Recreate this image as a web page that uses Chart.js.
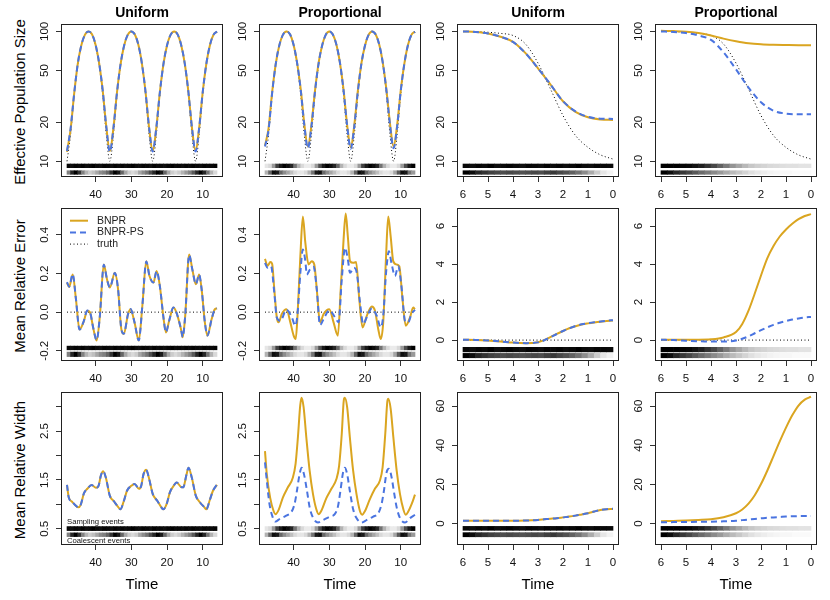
<!DOCTYPE html>
<html><head><meta charset="utf-8">
<script src="https://cdn.jsdelivr.net/npm/chart.js@4.4.1/dist/chart.umd.min.js"></script>
<style>
html,body{margin:0;padding:0;background:#fff;}
#wrap{position:relative;width:830px;height:600px;overflow:hidden;background:#fff;}
#wrap canvas{position:absolute;}
.ytitle{position:absolute;font-family:"Liberation Sans",Arial,sans-serif;font-size:15px;line-height:1;color:#000;white-space:nowrap;transform:translate(-50%,-50%) rotate(-90deg);}
</style></head><body><div id="wrap"></div>
<script>
// ================= DATA =================
const columnTitles = ['Uniform', 'Proportional', 'Uniform', 'Proportional'];
const rowTitles = ['Effective Population Size', 'Mean Relative Error', 'Mean Relative Width'];
const legendLabels = ['BNPR', 'BNPR-PS', 'truth'];
const stripLabels = ['Sampling events', 'Coalescent events'];
const xAxisTitle = 'Time';

const xTicksPer = [40, 30, 20, 10];
const xLabelsPer = ['40', '30', '20', '10'];
const xTicksExp = [6, 5, 4, 3, 2, 1, 0];
const xLabelsExp = ['6', '5', '4', '3', '2', '1', '0'];
const yTicksNe = [10, 20, 50, 100];
const yLabelsNe = ['10', '20', '50', '100'];
const yTicksErrPer = [-0.2, 0, 0.2, 0.4];
const yLabelsErrPer = ['-0.2', '0.0', '0.2', '0.4'];
const yTicksErrExp = [0, 2, 4, 6];
const yLabelsErrExp = ['0', '2', '4', '6'];
const yTicksWidPer = [0.5, 1, 1.5, 2, 2.5, 3];
const yLabelsWidPer = ['0.5', '', '1.5', '', '2.5', ''];
const yTicksWidExp = [0, 20, 40, 60];
const yLabelsWidExp = ['0', '20', '40', '60'];

// --- Row 1: effective population size, periodic scenario ---
const timePer = [48,47,46,45,44,43,42,41,40,39,38,37,36,35,34,33,32,31,30,29,28,27,26,25,24,23,22,21,20,19,18,17,16,15,14,13,12,11,10,9,8,7,6];
const neTruthPer = [10,16,32.5,55,77.5,94,100,94,77.5,55,32.5,16,10,16,32.5,55,77.5,94,100,94,77.5,55,32.5,16,10,16,32.5,55,77.5,94,100,94,77.5,55,32.5,16,10,16,32.5,55,77.5,94,100];
const neUnifBNPR = [11.8,17.5,33,56,78,94,100,95,79,57,35,18.5,12,18,34,56,78,94,100,94.5,78.5,56,34,18,12,18,34,56,78,94,100,94.5,78,56,34,18,12,18,34,56,78,94,99.5];
const neUnifPS = [12,17.8,33,56,78,94,100,95,79,57,35,18.5,11.8,18,34,56,78,94,100,94.5,78.5,56,34,18,11.9,18,34,56,78,94,100,94.5,78,56,34,18,11.9,18,34,56,78,94,99.8];
const nePropBNPR = [13.2,18,34,56,78,94,100,95,79,57,36,19.5,13,19,35,57,78,94,100,94.5,79,57,35.5,19,12.8,19,35,57,78,94,100,94.5,79,57,35.5,19.5,13,19,35,56,78,94,99.5];
const nePropPS = [13,17.5,33.5,56,78,94,100,95,79,57,35.5,19,12.6,18.5,34.5,56.5,78,94,100,94.5,79,57,35,18.8,12.5,18.5,34.5,56.5,78,94,100,94.5,79,57,35,19,12.6,18.5,34.5,56,78,94,99.5];

// --- Row 1: effective population size, decline scenario ---
const timeExp = [6,5.5,5,4.5,4,3.5,3,2.5,2,1.5,1,0.5,0];
const neTruthExp = [100,99.5,98.5,96.5,93,80,57,36,22.5,15.8,12.8,11.2,10.4];
const neUnifExpBNPR = [100,99,96.5,91,83,68,52,39,29,24,21.8,21,20.8];
const neUnifExpPS = [100,99,96.5,91,83,68,52,39,29,24.2,22,21.3,21.2];
const nePropExpBNPR = [101,100.5,99.5,97,93,88,84,81,79.5,78.8,78.5,78.3,78.3];
const nePropExpPS = [100,99,97,93,86,69,51,37,28.5,24.5,23.3,23,23];

// --- Row 2: mean relative error, periodic ---
const mreUnifTime = [48,47.4,46.4,45.5,44.5,43.4,42.3,41.6,40.6,39.7,38.8,37.7,36.8,36.0,34.6,33.7,32.8,32.1,30.9,30.2,29.1,27.9,26.9,25.8,24.9,23.8,22.9,22.0,21.0,20.3,19.4,18.2,17.3,16.1,15.6,14.9,13.8,12.9,11.9,11.0,10.3,9.4,8.7,7.5,6.6,6.0];
const mreUnifBNPR = [0.153,0.13,0.195,0.067,-0.09,-0.053,0.007,0.0,-0.087,-0.147,-0.02,0.247,0.17,0.127,0.204,0.118,-0.087,-0.113,-0.01,0.015,-0.053,-0.147,0.033,0.264,0.187,0.153,0.213,0.135,-0.027,-0.105,-0.045,0.024,-0.005,-0.087,-0.13,-0.019,0.298,0.221,0.144,0.195,0.118,-0.053,-0.122,-0.036,0.015,0.019];
const mreUnifPS = [0.155,0.132,0.197,0.068,-0.09,-0.052,0.008,0.001,-0.086,-0.145,-0.02,0.245,0.17,0.128,0.203,0.118,-0.086,-0.112,-0.01,0.016,-0.052,-0.146,0.033,0.262,0.187,0.154,0.212,0.135,-0.026,-0.104,-0.045,0.024,-0.005,-0.086,-0.129,-0.018,0.296,0.22,0.145,0.194,0.118,-0.052,-0.121,-0.036,0.015,0.02];
const mrePropTime = [48,47.3,46.5,46.0,45.4,44.7,44.2,43.3,42.0,40.9,40.0,39.4,38.9,38.1,37.4,36.7,35.8,34.9,34.2,33.5,32.6,31.6,30.0,28.8,27.6,26.8,26.0,25.4,24.8,24.2,23.3,22.5,21.6,20.7,19.5,18.1,17.2,16.3,15.6,14.9,14.1,13.5,12.8,12.1,11.2,10.4,9.5,8.6,7.4,6.5,6.0];
const mrePropBNPR = [0.276,0.24,0.259,0.25,0.118,-0.027,-0.053,-0.01,0.015,-0.053,-0.12,-0.139,-0.02,0.29,0.495,0.358,0.247,0.264,0.247,0.118,-0.053,-0.01,0.015,-0.053,-0.122,0.118,0.375,0.51,0.39,0.264,0.255,0.259,0.067,-0.079,-0.019,0.029,0.007,-0.087,-0.139,-0.053,0.29,0.495,0.39,0.264,0.247,0.238,0.067,-0.07,-0.027,0.024,0.015];
const mrePropPSTime = [48,47.3,46.3,45.4,44.7,43.7,42.0,40.5,39.5,38.9,38.1,37.4,36.7,36.3,35.4,34.4,33.5,32.6,31.6,30.0,28.4,27.4,26.5,25.6,24.8,24.2,23.1,22.3,21.4,20.5,19.5,18.1,16.7,15.6,14.9,14.1,13.3,12.6,11.6,10.7,9.8,8.8,7.9,7.0,6.0];
const mrePropPS = [0.255,0.23,0.238,0.1,-0.027,-0.045,0.012,-0.027,-0.07,-0.01,0.204,0.324,0.264,0.195,0.221,0.235,0.118,-0.067,-0.036,0.01,-0.027,-0.053,0.17,0.333,0.273,0.204,0.23,0.204,0.05,-0.062,-0.027,0.019,-0.019,-0.079,-0.019,0.204,0.315,0.255,0.187,0.238,0.135,-0.045,-0.053,-0.01,0.012];
const errTruthTimePer = [48, 6];
const errTruthPer = [0, 0];

// --- Row 2: mean relative error, decline ---
const timeExpFine = [6,5.5,5,4.5,4,3.5,3,2.75,2.5,2.25,2,1.75,1.5,1.25,1,0.75,0.5,0.25,0];
const mreUnifExpBNPR = [0.02,0.01,-0.02,-0.07,-0.13,-0.16,-0.11,0.0,0.16,0.33,0.48,0.62,0.73,0.82,0.88,0.93,0.97,1.0,1.03];
const mreUnifExpPS = [0.02,0.01,-0.02,-0.07,-0.13,-0.16,-0.12,-0.01,0.15,0.32,0.48,0.62,0.74,0.83,0.89,0.94,0.98,1.02,1.05];
const mrePropExpBNPR = [0.02,0.02,0.02,0.02,0.04,0.14,0.42,0.85,1.55,2.45,3.4,4.3,4.95,5.45,5.82,6.12,6.36,6.53,6.63];
const mrePropExpPS = [0.02,0.0,-0.03,-0.06,-0.08,-0.08,-0.02,0.07,0.2,0.36,0.52,0.67,0.8,0.91,1.0,1.08,1.14,1.19,1.22];
const errTruthTimeExp = [6, 0];
const errTruthExp = [0, 0];

// --- Row 3: mean relative width, periodic ---
const mrwUnifTime = [48,47.5,46.67,45.74,44.8,44.17,43.24,42.31,41.11,39.9,39.17,38.52,37.87,37.13,36.02,34.81,33.7,33.06,32.13,31.2,30,29.07,27.87,27.22,26.57,25.83,25.09,23.98,22.78,21.67,21.02,20.09,19.17,17.96,17.31,16.11,15.46,14.54,13.98,13.06,11.94,10.74,9.63,8.98,8.06,7.13,6];
const mrwUnifBNPR = [1.40,1.14,1.06,0.99,0.94,0.99,1.23,1.32,1.40,1.34,1.38,1.59,1.68,1.55,1.18,1.06,0.95,0.90,1.06,1.28,1.38,1.42,1.32,1.38,1.62,1.71,1.55,1.21,1.08,0.95,0.90,1.01,1.25,1.40,1.45,1.36,1.35,1.61,1.75,1.55,1.18,1.04,0.95,0.90,1.08,1.28,1.40];
const mrwUnifPS = [1.40,1.14,1.06,0.99,0.94,0.99,1.23,1.32,1.40,1.34,1.38,1.59,1.68,1.55,1.18,1.06,0.95,0.90,1.06,1.28,1.38,1.42,1.32,1.38,1.62,1.71,1.55,1.21,1.08,0.95,0.90,1.01,1.25,1.40,1.45,1.36,1.35,1.61,1.75,1.55,1.18,1.04,0.95,0.90,1.08,1.28,1.41];
const mrwPropTime = [48,47.5,46.56,45.62,45.06,44.12,43.0,41.59,40.19,39.44,38.78,38.13,37.75,37.19,36.44,35.5,34.56,33.63,32.97,32.22,30.82,29.41,28.0,27.25,26.5,25.94,25.66,25.0,24.25,23.32,22.38,21.44,20.79,20.04,18.63,17.23,15.82,15.07,14.32,13.76,13.48,12.82,12.07,11.13,10.2,9.26,8.6,7.85,6.92,6];
const mrwPropBNPR = [2.09,1.62,1.14,0.87,0.80,0.90,1.14,1.35,1.55,1.83,2.38,3.03,3.18,2.99,2.38,1.69,1.21,0.90,0.80,0.87,1.13,1.32,1.52,1.79,2.45,3.13,3.18,2.99,2.38,1.69,1.21,0.87,0.79,0.86,1.11,1.32,1.49,1.76,2.45,3.10,3.16,2.96,2.38,1.69,1.21,0.90,0.79,0.86,1.01,1.20];
const mrwPropPSTime = [48,47.5,46.75,45.81,45.06,43.94,42.06,40.66,39.72,39.06,38.31,37.75,37.09,36.25,35.5,34.56,33.16,31.75,29.88,28.47,27.54,26.88,26.13,25.66,25.0,24.25,23.32,22.38,20.98,19.57,17.7,16.29,15.35,14.7,13.95,13.29,12.54,11.88,11.13,10.2,8.79,7.38,6];
const mrwPropPS = [1.86,1.49,1.01,0.73,0.65,0.70,0.77,0.84,1.01,1.28,1.62,1.75,1.62,1.28,0.94,0.73,0.63,0.68,0.75,0.80,0.97,1.28,1.66,1.75,1.62,1.28,0.90,0.72,0.63,0.68,0.75,0.82,1.01,1.28,1.66,1.73,1.55,1.25,0.94,0.72,0.63,0.72,0.79];

// --- Row 3: mean relative width, decline ---
const mrwUnifExpBNPR = [1.5,1.5,1.5,1.5,1.5,1.6,1.9,2.2,2.5,2.8,3.2,3.6,4.1,4.7,5.3,6.2,7.0,7.4,7.5];
const mrwUnifExpPS = [1.5,1.5,1.5,1.5,1.5,1.6,1.9,2.2,2.5,2.8,3.2,3.6,4.1,4.7,5.3,6.2,7.0,7.4,7.6];
const mrwPropExpBNPR = [1.2,1.4,1.6,1.9,2.3,3.3,5.3,7.2,10.2,14.5,20.2,27,34.5,42,49,55.3,60.3,63.3,64.8];
const mrwPropExpPS = [0.7,0.78,0.85,0.92,1.0,1.2,1.5,1.8,2.1,2.4,2.7,3.0,3.2,3.4,3.6,3.75,3.85,3.9,3.9];

// --- event strips (darkness 0 = white, 1 = black) ---
const stripTimePer = [47.5,46.5,45.5,44.5,43.5,42.5,41.5,40.5,39.5,38.5,37.5,36.5,35.5,34.5,33.5,32.5,31.5,30.5,29.5,28.5,27.5,26.5,25.5,24.5,23.5,22.5,21.5,20.5,19.5,18.5,17.5,16.5,15.5,14.5,13.5,12.5,11.5,10.5,9.5,8.5,7.5,6.5];
const sampUnifPer = [0.97,0.95,0.98,0.96,0.99,0.95,0.97,1,0.96,0.94,0.98,0.97,0.95,0.99,0.96,0.98,0.95,0.97,1,0.96,0.95,0.98,0.97,0.94,0.99,0.96,0.97,0.95,0.98,1,0.96,0.97,0.95,0.98,0.96,0.99,0.97,0.95,0.98,0.96,0.97,0.99];
const coalUnifPer = [0.5,0.85,1.0,0.8,0.5,0.3,0.2,0.25,0.35,0.45,0.5,0.6,0.8,1.0,0.9,0.6,0.35,0.2,0.15,0.2,0.35,0.45,0.55,0.7,0.85,1.0,0.9,0.6,0.35,0.2,0.15,0.2,0.3,0.4,0.5,0.65,0.85,1.0,0.85,0.55,0.3,0.15];
const sampPropPer = [0.1,0.15,0.4,0.75,0.9,1.0,0.95,0.85,0.55,0.3,0.15,0.08,0.08,0.15,0.4,0.7,0.9,1.0,0.95,0.85,0.6,0.3,0.15,0.08,0.08,0.15,0.4,0.75,0.9,1.0,0.95,0.85,0.55,0.3,0.15,0.08,0.08,0.15,0.4,0.7,0.9,1.0];
const coalPropPer = [0.3,0.6,0.95,0.9,0.6,0.45,0.35,0.25,0.15,0.1,0.1,0.15,0.3,0.55,0.9,0.95,0.6,0.45,0.35,0.25,0.15,0.1,0.1,0.15,0.3,0.6,0.95,0.9,0.6,0.45,0.35,0.25,0.15,0.1,0.1,0.15,0.35,0.65,0.95,0.9,0.55,0.4];
const stripTimeExp = [5.875,5.625,5.375,5.125,4.875,4.625,4.375,4.125,3.875,3.625,3.375,3.125,2.875,2.625,2.375,2.125,1.875,1.625,1.375,1.125,0.875,0.625,0.375,0.125];
const sampUnifExp = [0.97,0.95,0.98,0.96,1,0.95,0.97,0.99,0.96,0.94,0.98,0.97,0.95,0.99,0.96,0.98,0.95,0.97,1,0.96,0.95,0.98,0.97,0.96];
const coalUnifExp = [1.0,0.95,0.85,0.8,0.75,0.72,0.7,0.72,0.7,0.68,0.7,0.72,0.7,0.75,0.78,0.72,0.68,0.62,0.55,0.45,0.33,0.2,0.1,0.05];
const sampPropExp = [1,1,1,0.98,0.97,0.93,0.88,0.8,0.72,0.62,0.52,0.42,0.35,0.28,0.22,0.19,0.17,0.15,0.14,0.13,0.12,0.12,0.11,0.11];
const coalPropExp = [1.0,0.95,0.85,0.78,0.72,0.65,0.58,0.52,0.46,0.4,0.33,0.27,0.22,0.17,0.12,0.09,0.07,0.05,0.04,0.03,0.03,0.02,0.02,0.02];

// ================= LAYOUT / STYLE =================
const FONT = '"Liberation Sans", Arial, sans-serif';
const BOX_W = 162, BOX_H = 153;
const colLeft = [61, 259, 457, 655];
const rowTop = [24, 208, 392];
const STY = {
  bnpr: {borderColor: '#DAA520', borderWidth: 2, borderDash: [], order: 1},
  ps: {borderColor: '#4A74E0', borderWidth: 2, borderDash: [6, 4], order: 0},
  truth: {borderColor: '#000000', borderWidth: 1, borderDash: [1, 2.5], order: 2}
};
const PER = {range: [4.32, 49.68], ticks: xTicksPer, labels: xLabelsPer, cells: stripTimePer};
const EXP = {range: [-0.24, 6.24], ticks: xTicksExp, labels: xLabelsExp, cells: stripTimeExp};
const YNE = {type: 'logarithmic', min: 7.57, max: 114, ticks: yTicksNe, labels: yLabelsNe};

const panels = [
  {r:0, c:0, sc:PER, y:YNE, band:{s:[8.93,9.53], k:[7.94,8.46]}, samp:sampUnifPer, coal:coalUnifPer,
   lines:[[timePer,neUnifPS,'ps'],[timePer,neUnifBNPR,'bnpr'],[timePer,neTruthPer,'truth']]},
  {r:0, c:1, sc:PER, y:YNE, band:{s:[8.93,9.53], k:[7.94,8.46]}, samp:sampPropPer, coal:coalPropPer,
   lines:[[timePer,nePropPS,'ps'],[timePer,nePropBNPR,'bnpr'],[timePer,neTruthPer,'truth']]},
  {r:0, c:2, sc:EXP, y:YNE, band:{s:[8.93,9.53], k:[7.94,8.46]}, samp:sampUnifExp, coal:coalUnifExp,
   lines:[[timeExp,neUnifExpPS,'ps'],[timeExp,neUnifExpBNPR,'bnpr'],[timeExp,neTruthExp,'truth']]},
  {r:0, c:3, sc:EXP, y:YNE, band:{s:[8.93,9.53], k:[7.94,8.46]}, samp:sampPropExp, coal:coalPropExp,
   lines:[[timeExp,nePropExpPS,'ps'],[timeExp,nePropExpBNPR,'bnpr'],[timeExp,neTruthExp,'truth']]},

  {r:1, c:0, sc:PER, y:{type:'linear',min:-0.253,max:0.539,ticks:yTicksErrPer,labels:yLabelsErrPer}, band:{s:[-0.195,-0.176], k:[-0.230,-0.207]}, samp:sampUnifPer, coal:coalUnifPer, legend:true,
   lines:[[mreUnifTime,mreUnifPS,'ps'],[mreUnifTime,mreUnifBNPR,'bnpr'],[errTruthTimePer,errTruthPer,'truth']]},
  {r:1, c:1, sc:PER, y:{type:'linear',min:-0.253,max:0.539,ticks:yTicksErrPer,labels:yLabelsErrPer}, band:{s:[-0.195,-0.176], k:[-0.230,-0.207]}, samp:sampPropPer, coal:coalPropPer,
   lines:[[mrePropPSTime,mrePropPS,'ps'],[mrePropTime,mrePropBNPR,'bnpr'],[errTruthTimePer,errTruthPer,'truth']]},
  {r:1, c:2, sc:EXP, y:{type:'linear',min:-1.1,max:6.95,ticks:yTicksErrExp,labels:yLabelsErrExp}, band:{s:[-0.62,-0.38], k:[-0.93,-0.70]}, samp:sampUnifExp, coal:coalUnifExp,
   lines:[[timeExpFine,mreUnifExpPS,'ps'],[timeExpFine,mreUnifExpBNPR,'bnpr'],[errTruthTimeExp,errTruthExp,'truth']]},
  {r:1, c:3, sc:EXP, y:{type:'linear',min:-1.1,max:6.95,ticks:yTicksErrExp,labels:yLabelsErrExp}, band:{s:[-0.62,-0.38], k:[-0.93,-0.70]}, samp:sampPropExp, coal:coalPropExp,
   lines:[[timeExpFine,mrePropExpPS,'ps'],[timeExpFine,mrePropExpBNPR,'bnpr'],[errTruthTimeExp,errTruthExp,'truth']]},

  {r:2, c:0, sc:PER, y:{type:'linear',min:0.17,max:3.30,ticks:yTicksWidPer,labels:yLabelsWidPer}, band:{s:[0.465,0.547], k:[0.342,0.418]}, samp:sampUnifPer, coal:coalUnifPer, stripText:true,
   lines:[[mrwUnifTime,mrwUnifPS,'ps'],[mrwUnifTime,mrwUnifBNPR,'bnpr']]},
  {r:2, c:1, sc:PER, y:{type:'linear',min:0.17,max:3.30,ticks:yTicksWidPer,labels:yLabelsWidPer}, band:{s:[0.465,0.547], k:[0.342,0.418]}, samp:sampPropPer, coal:coalPropPer,
   lines:[[mrwPropPSTime,mrwPropPS,'ps'],[mrwPropTime,mrwPropBNPR,'bnpr']]},
  {r:2, c:2, sc:EXP, y:{type:'linear',min:-10.9,max:67.2,ticks:yTicksWidExp,labels:yLabelsWidExp}, band:{s:[-3.4,-1.4], k:[-6.7,-4.6]}, samp:sampUnifExp, coal:coalUnifExp,
   lines:[[timeExpFine,mrwUnifExpPS,'ps'],[timeExpFine,mrwUnifExpBNPR,'bnpr']]},
  {r:2, c:3, sc:EXP, y:{type:'linear',min:-10.9,max:67.2,ticks:yTicksWidExp,labels:yLabelsWidExp}, band:{s:[-3.4,-1.4], k:[-6.7,-4.6]}, samp:sampPropExp, coal:coalPropExp,
   lines:[[timeExpFine,mrwPropExpPS,'ps'],[timeExpFine,mrwPropExpBNPR,'bnpr']]}
];

// ================= RENDER =================
const wrap = document.getElementById('wrap');
const mctx = document.createElement('canvas').getContext('2d');
const TICK_SIZE = 11.5;
function textW(s, size) { mctx.font = 'normal ' + size + 'px ' + FONT; return mctx.measureText(s).width; }
function gray(v) { const g = Math.round(255 * (1 - v)); return 'rgb(' + g + ',' + g + ',' + g + ')'; }

rowTitles.forEach((t, r) => {
  const d = document.createElement('div');
  d.className = 'ytitle';
  d.textContent = t;
  d.style.left = '18.5px';
  d.style.top = (rowTop[r] + BOX_H / 2 + 1) + 'px';
  wrap.appendChild(d);
});

const decor = {
  id: 'decor',
  afterDraw(chart, args, opts) {
    const ctx = chart.ctx, ca = chart.chartArea;
    ctx.save();
    ctx.setLineDash([]);
    ctx.strokeStyle = '#222';
    ctx.lineWidth = 1;
    ctx.strokeRect(Math.round(ca.left) + 0.5, Math.round(ca.top) + 0.5, Math.round(ca.right - ca.left) - 1, Math.round(ca.bottom - ca.top) - 1);
    if (opts.legend) {
      const kinds = ['bnpr', 'ps', 'truth'];
      ctx.font = 'normal 10.5px ' + FONT;
      ctx.textBaseline = 'middle';
      ctx.textAlign = 'left';
      kinds.forEach((k, i) => {
        const y = ca.top + 12.7 + i * 11.7;
        const s = STY[k];
        ctx.strokeStyle = s.borderColor;
        ctx.lineWidth = s.borderWidth;
        ctx.setLineDash(s.borderDash);
        ctx.beginPath();
        ctx.moveTo(ca.left + 9, y);
        ctx.lineTo(ca.left + 27, y);
        ctx.stroke();
        ctx.setLineDash([]);
        ctx.fillStyle = '#222';
        ctx.fillText(legendLabels[i], ca.left + 36, y);
      });
    }
    if (opts.stripText) {
      const xs = chart.scales.x, ys = chart.scales.y;
      const x0 = xs.getPixelForValue(opts.stripStart);
      ctx.font = 'normal 7.7px ' + FONT;
      ctx.fillStyle = '#111';
      ctx.textAlign = 'left';
      ctx.textBaseline = 'middle';
      ctx.fillText(stripLabels[0], x0, ys.getPixelForValue(opts.sTop) - 4.5);
      ctx.fillText(stripLabels[1], x0, ys.getPixelForValue(opts.kBot) + 4.6);
    }
    ctx.restore();
  }
};

panels.forEach(p => {
  const padL = 45, padT = 24, padR = 10, padB = (p.r === 2 ? 55 : 30);
  const W = padL + BOX_W + padR, H = padT + BOX_H + padB;
  const cv = document.createElement('canvas');
  cv.width = W; cv.height = H;
  cv.style.width = W + 'px'; cv.style.height = H + 'px';
  cv.style.left = (colLeft[p.c] - padL) + 'px';
  cv.style.top = (rowTop[p.r] - padT) + 'px';
  wrap.appendChild(cv);

  const datasets = [];
  p.lines.forEach(([xs, ys, kind]) => {
    datasets.push(Object.assign({
      type: 'line',
      data: xs.map((x, i) => ({x: x, y: ys[i]})),
      pointRadius: 0, pointHoverRadius: 0, fill: false,
      cubicInterpolationMode: 'monotone', borderCapStyle: 'butt'
    }, STY[kind]));
  });
  [[p.samp, p.band.s], [p.coal, p.band.k]].forEach(([vals, yb]) => {
    datasets.push({
      type: 'bar',
      data: p.sc.cells.map(x => ({x: x, y: [yb[0], yb[1]]})),
      backgroundColor: vals.map(gray),
      borderWidth: 0, barPercentage: 1, categoryPercentage: 1, grouped: false, order: 5
    });
  });

  const widest = Math.max.apply(null, p.y.labels.map(l => textW(l, TICK_SIZE)));
  const yPad = 16 - 5 - widest / 2;
  const gridOpts = {display: true, drawOnChartArea: false, drawTicks: true, tickLength: 5, color: '#333', lineWidth: 1, offset: false};

  new Chart(cv, {
    type: 'line',
    data: {datasets: datasets},
    options: {
      responsive: false, animation: false, devicePixelRatio: 1,
      events: [],
      layout: {padding: {left: 0, right: padR, top: (p.r === 0 ? 0 : padT), bottom: 0}},
      plugins: {
        legend: {display: false},
        tooltip: {enabled: false},
        title: {display: p.r === 0, text: columnTitles[p.c], fullSize: false, color: '#000',
                font: {family: FONT, size: 14, weight: 'bold', lineHeight: 1}, padding: {top: 6, bottom: 4}},
        decor: {legend: !!p.legend, stripText: !!p.stripText, stripStart: 48, sTop: p.band.s[1], kBot: p.band.k[0]}
      },
      scales: {
        x: {
          type: 'linear', reverse: true, offset: false, min: p.sc.range[0], max: p.sc.range[1],
          afterBuildTicks: s => { s.ticks = p.sc.ticks.map(v => ({value: v})); },
          afterFit: s => { s.height = padB; },
          ticks: {autoSkip: false, minRotation: 0, maxRotation: 0, padding: 6, color: '#111',
                  font: {family: FONT, size: TICK_SIZE}, callback: (v, i) => p.sc.labels[i]},
          grid: gridOpts,
          border: {display: false},
          title: {display: p.r === 2, text: xAxisTitle, color: '#000',
                  font: {family: FONT, size: 15, lineHeight: 1}, padding: {top: 0, bottom: 7.5}}
        },
        y: {
          type: p.y.type, offset: false, min: p.y.min, max: p.y.max,
          afterBuildTicks: s => { s.ticks = p.y.ticks.map(v => ({value: v})); },
          afterFit: s => { s.width = padL; },
          ticks: {autoSkip: false, minRotation: 90, maxRotation: 90, crossAlign: 'center', padding: yPad,
                  color: '#111', font: {family: FONT, size: TICK_SIZE}, callback: (v, i) => p.y.labels[i]},
          grid: gridOpts,
          border: {display: false}
        }
      }
    },
    plugins: [decor]
  });
});
</script></body></html>
